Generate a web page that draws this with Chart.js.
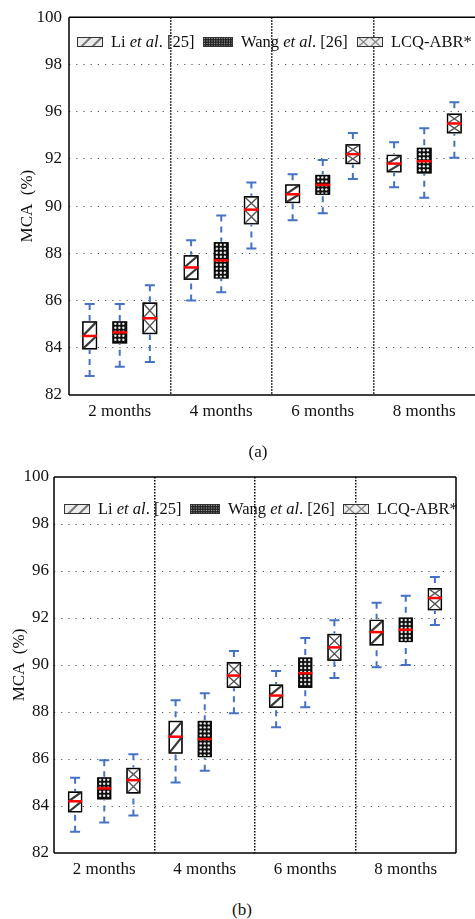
<!DOCTYPE html>
<html>
<head>
<meta charset="utf-8">
<script src="https://cdn.jsdelivr.net/npm/chart.js@4.4.1/dist/chart.umd.min.js"></script>
<style>
    html, body { margin: 0; padding: 0; background: #fff; }
    body { width: 475px; height: 919px; position: relative; overflow: hidden;
           font-family: 'Liberation Serif', 'Times New Roman', serif; color: #111; }
    canvas.panel { position: absolute; left: 0; }
    .item { position: absolute; display: flex; align-items: center; font-size: 16.5px; white-space: nowrap; height: 20px; }
    .item canvas { margin-right: 8px; }
    .caption { position: absolute; font-size: 17px; transform: translate(-50%, -50%); }
</style>
</head>
<body>

<canvas id="chartA" class="panel" width="475" height="425" style="top:0"></canvas>
<canvas id="chartB" class="panel" width="475" height="423" style="top:460px"></canvas>

<div class="caption" style="left:258px; top:452px">(a)</div>
<div class="caption" style="left:242px; top:910px">(b)</div>

<div id="legends"></div>

<script>
/* ----------------------------------------------------------
   Data — each entry is [min, q1, median, q3, max]
   The y axis of the figure prints 82 ... 92, 96, 98, 100 on
   evenly spaced grid lines; values follow that even spacing.
---------------------------------------------------------- */

const MONTHS = ["2 months", "4 months", "6 months", "8 months"];
const Y_TICK_LABELS = ["82", "84", "86", "88", "90", "92", "96", "98", "100"];

const SERIES = ["Li et al. [25]", "Wang et al. [26]", "LCQ-ABR*"];

// panel (a)
const LI_A   = [[82.8, 83.95, 84.5, 85.1, 85.85], [86.0, 86.9, 87.4, 87.9, 88.55], [89.4, 90.15, 90.5, 90.9, 91.35], [90.8, 91.45, 91.8, 92.15, 92.7]];
const WANG_A = [[83.2, 84.2, 84.65, 85.1, 85.85], [86.35, 86.95, 87.7, 88.45, 89.6], [89.7, 90.5, 90.9, 91.3, 91.95], [90.35, 91.4, 91.9, 92.45, 93.3]];
const LCQ_A  = [[83.4, 84.6, 85.25, 85.9, 86.65], [88.2, 89.25, 89.85, 90.4, 91.0], [91.15, 91.8, 92.2, 92.6, 93.1], [92.05, 93.1, 93.5, 93.9, 94.4]];

// panel (b)
const LI_B   = [[82.9, 83.75, 84.2, 84.6, 85.2], [85.0, 86.25, 86.95, 87.6, 88.5], [87.35, 88.2, 88.7, 89.15, 89.75], [89.9, 90.85, 91.4, 91.9, 92.65]];
const WANG_B = [[83.3, 84.3, 84.75, 85.2, 85.95], [85.5, 86.1, 86.85, 87.6, 88.8], [88.2, 89.05, 89.65, 90.3, 91.15], [90.0, 91.0, 91.5, 92.0, 92.95]];
const LCQ_B  = [[83.6, 84.55, 85.1, 85.6, 86.2], [87.95, 89.05, 89.55, 90.1, 90.6], [89.45, 90.2, 90.75, 91.3, 91.9], [91.7, 92.35, 92.85, 93.25, 93.75]];

const COLORS = {
    whisker: "#4472C4",
    median: "#FF0000",
    grid: "#555555",
    ink: "#111111"
};

Chart.defaults.font.family = "'Liberation Serif', 'Times New Roman', serif";
Chart.defaults.color = COLORS.ink;

/* ----------------------------------------------------------
   Box fills (drawn clipped inside each box)
---------------------------------------------------------- */

const FILLS = {
    hatch(ctx, l, t, w, h, m) {
        ctx.strokeStyle = "#3a3a3a";
        ctx.lineWidth = 2.2;
        ctx.beginPath();
        ctx.moveTo(l, m); ctx.lineTo(l + w, t);
        ctx.moveTo(l, t + h); ctx.lineTo(l + w, m);
        ctx.stroke();
    },
    dots(ctx, l, t, w, h) {
        ctx.fillStyle = "#111";
        ctx.fillRect(l, t, w, h);
        ctx.fillStyle = "#e8e8e8";
        for (let yy = t + 2; yy < t + h; yy += 4) {
            for (let xx = l + 2.5; xx < l + w; xx += 4) {
                ctx.beginPath(); ctx.arc(xx, yy, 1.2, 0, Math.PI * 2); ctx.fill();
            }
        }
    },
    cross(ctx, l, t, w, h, m) {
        ctx.strokeStyle = "#555";
        ctx.lineWidth = 1.4;
        ctx.beginPath();
        ctx.moveTo(l, t); ctx.lineTo(l + w, m);
        ctx.moveTo(l + w, t); ctx.lineTo(l, m);
        ctx.moveTo(l, m); ctx.lineTo(l + w, t + h);
        ctx.moveTo(l + w, m); ctx.lineTo(l, t + h);
        ctx.stroke();
    }
};

/* ----------------------------------------------------------
   Plugins
---------------------------------------------------------- */

const boxPlugin = {
    id: "boxes",
    afterDatasetsDraw(chart) {
        const ctx = chart.ctx;
        const y = chart.scales.y;

        chart.data.datasets.forEach((ds, di) => {
            chart.getDatasetMeta(di).data.forEach((bar, i) => {
                const s = ds.stats[i];
                const { x, width } = bar.getProps(["x", "width"], true);
                const pMin = y.getPixelForValue(s[0]);
                const pQ1 = y.getPixelForValue(s[1]);
                const pMed = y.getPixelForValue(s[2]);
                const pQ3 = y.getPixelForValue(s[3]);
                const pMax = y.getPixelForValue(s[4]);
                const l = x - width / 2;

                ctx.save();
                ctx.beginPath();
                ctx.rect(l, pQ3, width, pQ1 - pQ3);
                ctx.clip();
                FILLS[ds.fill](ctx, l, pQ3, width, pQ1 - pQ3, pMed);
                ctx.restore();

                ctx.save();
                ctx.strokeStyle = "#000";
                ctx.lineWidth = 1.2;
                ctx.strokeRect(l, pQ3, width, pQ1 - pQ3);

                // whiskers
                ctx.strokeStyle = COLORS.whisker;
                ctx.lineWidth = 2;
                ctx.setLineDash([6, 5]);
                ctx.beginPath();
                ctx.moveTo(x, pMax); ctx.lineTo(x, pQ3 - 1);
                ctx.moveTo(x, pMin); ctx.lineTo(x, pQ1 + 1);
                ctx.stroke();
                ctx.setLineDash([]);
                ctx.beginPath();
                ctx.moveTo(x - 5, pMax); ctx.lineTo(x + 5, pMax);
                ctx.moveTo(x - 5, pMin); ctx.lineTo(x + 5, pMin);
                ctx.stroke();

                // median
                ctx.strokeStyle = COLORS.median;
                ctx.lineWidth = 2.5;
                ctx.beginPath();
                ctx.moveTo(l - 0.5, pMed); ctx.lineTo(l + width + 0.5, pMed);
                ctx.stroke();
                ctx.restore();
            });
        });
    }
};

const framePlugin = {
    id: "frame",
    afterDraw(chart, args, opts) {
        const { ctx, chartArea: a } = chart;
        const sides = opts.sides || [];
        ctx.save();
        ctx.strokeStyle = "#000";
        ctx.lineWidth = 1.5;
        ctx.beginPath();
        if (sides.includes("top"))    { ctx.moveTo(a.left, a.top);    ctx.lineTo(a.right, a.top); }
        if (sides.includes("right"))  { ctx.moveTo(a.right, a.top);   ctx.lineTo(a.right, a.bottom); }
        if (sides.includes("bottom")) { ctx.moveTo(a.left, a.bottom); ctx.lineTo(a.right, a.bottom); }
        if (sides.includes("left"))   { ctx.moveTo(a.left, a.top);    ctx.lineTo(a.left, a.bottom); }
        ctx.stroke();
        ctx.restore();
    }
};

/* ----------------------------------------------------------
   Chart factory
---------------------------------------------------------- */

function makeChart(id, cfg) {
    const sets = [cfg.li, cfg.wang, cfg.lcq];
    const fills = ["hatch", "dots", "cross"];
    const bgs = ["#fff", "#111", "#fff"];

    return new Chart(document.getElementById(id), {
        type: "bar",
        data: {
            labels: MONTHS,
            datasets: sets.map((stats, k) => ({
                label: SERIES[k],
                data: stats.map(s => [s[1], s[3]]),
                stats: stats,
                fill: fills[k],
                backgroundColor: bgs[k],
                borderColor: "#000",
                borderWidth: 1,
                borderSkipped: false
            }))
        },
        options: {
            responsive: false,
            animation: false,
            devicePixelRatio: 1,
            layout: { padding: cfg.padding },
            datasets: {
                bar: { categoryPercentage: cfg.catPct, barPercentage: cfg.barPct }
            },
            plugins: {
                legend: { display: false },
                tooltip: { enabled: false },
                frame: { sides: cfg.sides }
            },
            scales: {
                x: {
                    offset: true,
                    grid: {
                        offset: true,
                        drawTicks: false,
                        lineWidth: 1.5,
                        color: (c) => (c.index > 0 && c.index < MONTHS.length) ? "#000" : "transparent"
                    },
                    border: { display: false, dash: [1.5, 1.5] },
                    ticks: { padding: 6, font: { size: 17 } },
                    afterFit: (s) => { s.height = 30; }
                },
                y: {
                    min: 82,
                    max: 98,
                    grid: {
                        drawTicks: false,
                        lineWidth: 1,
                        color: (c) => (c.index > 0 && c.index < Y_TICK_LABELS.length - 1) ? COLORS.grid : "transparent"
                    },
                    border: { display: false, dash: [1.2, 6] },
                    ticks: {
                        stepSize: 2,
                        padding: cfg.tickPad,
                        font: { size: 17 },
                        callback: (v, i) => Y_TICK_LABELS[i]
                    },
                    title: {
                        display: true,
                        text: "MCA  (%)",
                        font: { size: 17 },
                        padding: { top: cfg.titlePad, bottom: 0 }
                    },
                    afterFit: (s) => { s.width = cfg.yWidth; }
                }
            }
        },
        plugins: [boxPlugin, framePlugin]
    });
}

makeChart("chartA", {
    li: LI_A, wang: WANG_A, lcq: LCQ_A,
    padding: { top: 10, right: 0, bottom: 0, left: 0 },
    catPct: 0.89, barPct: 0.46,
    yWidth: 69, tickPad: 7, titlePad: 17,
    sides: ["top", "left", "bottom"]
});

makeChart("chartB", {
    li: LI_B, wang: WANG_B, lcq: LCQ_B,
    padding: { top: 17, right: 19, bottom: 0, left: 0 },
    catPct: 0.87, barPct: 0.45,
    yWidth: 54, tickPad: 5, titlePad: 9,
    sides: ["top", "right", "left", "bottom"]
});

/* ----------------------------------------------------------
   Legends (HTML so "et al." can be italic)
---------------------------------------------------------- */

const LEGEND_HTML = [
    'Li <i>et al</i>. [25]',
    'Wang <i>et al</i>. [26]',
    'LCQ-ABR*'
];

function drawSwatch(cv, kind) {
    const ctx = cv.getContext("2d");
    const w = cv.width, h = cv.height;
    ctx.fillStyle = kind === "dots" ? "#222" : "#ececec";
    ctx.fillRect(0, 0, w, h);
    if (kind === "dots") {
        ctx.fillStyle = "#9a9a9a";
        for (let yy = 1.5; yy < h; yy += 2.5)
            for (let xx = 1.5; xx < w; xx += 2.5) ctx.fillRect(xx - 0.6, yy - 0.6, 1.2, 1.2);
    } else if (kind === "hatch") {
        ctx.strokeStyle = "#777"; ctx.lineWidth = 2;
        ctx.beginPath();
        [4, 15].forEach(x0 => { ctx.moveTo(x0, h); ctx.lineTo(x0 + h, 0); });
        ctx.stroke();
    } else {
        ctx.strokeStyle = "#888"; ctx.lineWidth = 1.3;
        ctx.beginPath();
        [1, 13].forEach(x0 => {
            ctx.moveTo(x0, 0); ctx.lineTo(x0 + 11, h);
            ctx.moveTo(x0 + 11, 0); ctx.lineTo(x0, h);
        });
        ctx.stroke();
    }
    ctx.strokeStyle = "#333"; ctx.lineWidth = 1;
    ctx.strokeRect(0.5, 0.5, w - 1, h - 1);
}

const LEGEND_POS = [
    { y: 42,  xs: [77, 203, 357] },
    { y: 509, xs: [64, 190, 343] }
];
const KINDS = ["hatch", "dots", "cross"];

const host = document.getElementById("legends");
LEGEND_POS.forEach(p => {
    p.xs.forEach((x, k) => {
        const item = document.createElement("div");
        item.className = "item";
        item.style.left = x + "px";
        item.style.top = (p.y - 10) + "px";
        const cv = document.createElement("canvas");
        cv.width = k === 1 ? 30 : 26;
        cv.height = 10;
        drawSwatch(cv, KINDS[k]);
        const span = document.createElement("span");
        span.innerHTML = LEGEND_HTML[k];
        item.appendChild(cv);
        item.appendChild(span);
        host.appendChild(item);
    });
});
</script>
</body>
</html>
